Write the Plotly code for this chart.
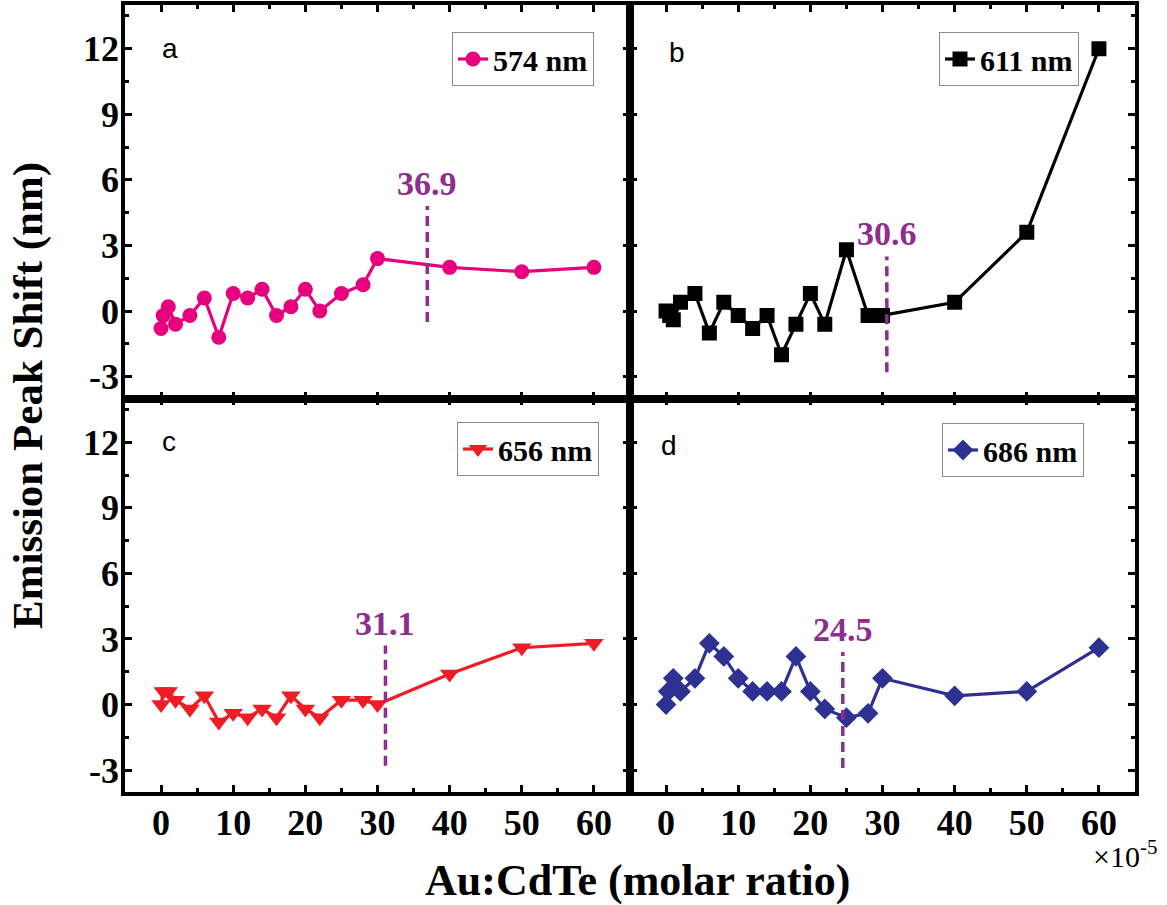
import plotly.graph_objects as go

# ---------------- data ----------------
x_a = [0, 0.3, 1, 2, 4, 6, 8, 10, 12, 14, 16, 18, 20, 22, 25, 28, 30, 40, 50, 60]
y_a = [-0.8, -0.2, 0.2, -0.6, -0.2, 0.6, -1.2, 0.8, 0.6, 1.0, -0.2, 0.2, 1.0, 0.0, 0.8, 1.2, 2.4, 2.0, 1.8, 2.0]

x_b = [0, 0.5, 1, 2, 4, 6, 8, 10, 12, 14, 16, 18, 20, 22, 25, 28, 30, 40, 50, 60]
y_b = [0.0, -0.2, -0.4, 0.4, 0.8, -1.0, 0.4, -0.2, -0.8, -0.2, -2.0, -0.6, 0.8, -0.6, 2.8, -0.2, -0.2, 0.4, 3.6, 12.0]

x_c = [0, 0.3, 1, 2, 4, 6, 8, 10, 12, 14, 16, 18, 20, 22, 25, 28, 30, 40, 50, 60]
y_c = [0.0, 0.6, 0.6, 0.2, -0.2, 0.4, -0.8, -0.4, -0.6, -0.2, -0.6, 0.4, -0.2, -0.6, 0.2, 0.2, 0.0, 1.4, 2.6, 2.8]

x_d = [0, 0.3, 1, 2, 4, 6, 8, 10, 12, 14, 16, 18, 20, 22, 25, 28, 30, 40, 50, 60]
y_d = [0.0, 0.6, 1.2, 0.6, 1.2, 2.8, 2.2, 1.2, 0.6, 0.6, 0.6, 2.2, 0.6, -0.2, -0.6, -0.4, 1.2, 0.4, 0.6, 2.6]

series_names = ["574 nm", "611 nm", "656 nm", "686 nm"]
panel_letters = ["a", "b", "c", "d"]
thresholds = [36.9, 30.6, 31.1, 24.5]
threshold_labels = ["36.9", "30.6", "31.1", "24.5"]
threshold_top = [4.8, 2.5, 2.7, 2.4]
threshold_bottom = [-0.5, -2.8, -2.8, -2.9]

x_tickvals = [0, 10, 20, 30, 40, 50, 60]
x_ticktext = ["0", "10", "20", "30", "40", "50", "60"]
y_tickvals = [-3, 0, 3, 6, 9, 12]
y_ticktext = ["-3", "0", "3", "6", "9", "12"]

x_title = "Au:CdTe (molar ratio)"
y_title = "Emission Peak Shift (nm)"
x_scale_note = "×10<sup>-5</sup>"

# ---------------- styling ----------------
colors = ["#E6007E", "#000000", "#EE1C25", "#2E3192"]
symbols = ["circle", "square", "triangle-down", "diamond"]
msizes = [15, 15, 17, 16]
purple = "#8E2D8E"
serif = "Liberation Serif"
sans = "Liberation Sans"

W, H = 1167, 905
ML, MR, MT, MB = 125, 32, 5, 113
PW, PH = W - ML - MR, H - MT - MB


def px_to_paper(px, py):
    return (px - ML) / PW, 1 - (py - MT) / PH


xs = [x_a, x_b, x_c, x_d]
ys = [y_a, y_b, y_c, y_d]
axes = [("x", "y"), ("x2", "y2"), ("x3", "y3"), ("x4", "y4")]
legends = ["legend", "legend2", "legend3", "legend4"]

fig = go.Figure()
for i in range(4):
    fig.add_trace(go.Scatter(
        x=xs[i], y=ys[i], mode="lines+markers", name=series_names[i],
        xaxis=axes[i][0], yaxis=axes[i][1], legend=legends[i],
        line=dict(color=colors[i], width=3.2),
        marker=dict(symbol=symbols[i], size=msizes[i], color=colors[i]),
    ))

domains_x = [[0, 0.5], [0.5, 1], [0, 0.5], [0.5, 1]]
domains_y = [[0.5, 1], [0.5, 1], [0, 0.5], [0, 0.5]]

tickfont = dict(family=serif, size=36, color="black", weight="bold")
layout = dict(
    width=W, height=H,
    margin=dict(l=ML, r=MR, t=MT, b=MB, autoexpand=False),
    paper_bgcolor="white", plot_bgcolor="white",
    showlegend=True,
)

for i in range(4):
    xn = "xaxis" if i == 0 else f"xaxis{i+1}"
    yn = "yaxis" if i == 0 else f"yaxis{i+1}"
    layout[xn] = dict(
        domain=domains_x[i], range=[-5, 65], anchor=axes[i][1],
        tickmode="array", tickvals=x_tickvals, ticktext=x_ticktext,
        showticklabels=(i >= 2), tickfont=tickfont, ticklabelstandoff=-4,
        ticks="inside", ticklen=7, tickwidth=3, tickcolor="black",
        minor=dict(dtick=5, tick0=0, ticks="inside", ticklen=4, tickwidth=3, tickcolor="black"),
        showline=True, linewidth=3.5, linecolor="black", mirror="allticks",
        showgrid=False, zeroline=False, fixedrange=True,
    )
    layout[yn] = dict(
        domain=domains_y[i], range=[-4, 14], anchor=axes[i][0],
        tickmode="array", tickvals=y_tickvals, ticktext=y_ticktext,
        showticklabels=(i % 2 == 0), tickfont=tickfont, ticklabelstandoff=-5,
        ticks="inside", ticklen=7, tickwidth=3, tickcolor="black",
        minor=dict(dtick=1.5, tick0=-3, ticks="inside", ticklen=4, tickwidth=3, tickcolor="black"),
        showline=True, linewidth=3.5, linecolor="black", mirror="allticks",
        showgrid=False, zeroline=False, fixedrange=True,
    )

# legend placements (paper coords, top-right anchor)
leg_px = [(594, 32), (1079, 32), (599, 422), (1084, 423)]
for i in range(4):
    lx, ly = px_to_paper(*leg_px[i])
    layout[legends[i]] = dict(
        x=lx, y=ly, xanchor="right", yanchor="top",
        bgcolor="white", bordercolor="#8a8a8a", borderwidth=1,
        font=dict(family=serif, size=30, color="black", weight="bold"),
        itemwidth=30, tracegroupgap=0,
    )

fig.update_layout(**layout)

# dashed threshold lines and labels
for i in range(4):
    xr, yr = axes[i]
    fig.add_shape(type="line", xref=xr, yref=yr,
                  x0=thresholds[i], x1=thresholds[i],
                  y0=threshold_bottom[i], y1=threshold_top[i],
                  line=dict(color=purple, width=3.5, dash="10px,6px"))
    fig.add_annotation(x=thresholds[i], y=threshold_top[i], xref=xr, yref=yr,
                       text=threshold_labels[i], showarrow=False,
                       xanchor="center", yanchor="bottom", yshift=2,
                       font=dict(family=serif, size=34, color=purple, weight="bold"))

# panel letters (pixel centres from the reference)
letter_px = [(170, 48), (677, 52), (169, 441), (669, 446)]
for i in range(4):
    lx, ly = px_to_paper(*letter_px[i])
    fig.add_annotation(x=lx, y=ly, xref="paper", yref="paper",
                       text=panel_letters[i], showarrow=False,
                       xanchor="center", yanchor="middle",
                       font=dict(family=sans, size=28, color="black"))

# axis titles
tx, ty = px_to_paper(637, 880)
fig.add_annotation(x=tx, y=ty, xref="paper", yref="paper", text=x_title, showarrow=False,
                   xanchor="center", yanchor="middle",
                   font=dict(family=serif, size=44, color="black", weight="bold"))
tx, ty = px_to_paper(28, 396)
fig.add_annotation(x=tx, y=ty, xref="paper", yref="paper", text=y_title, showarrow=False,
                   textangle=-90, xanchor="center", yanchor="middle",
                   font=dict(family=serif, size=43, color="black", weight="bold"))
tx, ty = px_to_paper(1125, 854)
fig.add_annotation(x=tx, y=ty, xref="paper", yref="paper", text=x_scale_note, showarrow=False,
                   xanchor="center", yanchor="middle",
                   font=dict(family=serif, size=30, color="black"))

fig.write_html("out.html",
               config={"displayModeBar": False},
               post_script="document.body.style.margin='0';document.body.style.padding='0';")
